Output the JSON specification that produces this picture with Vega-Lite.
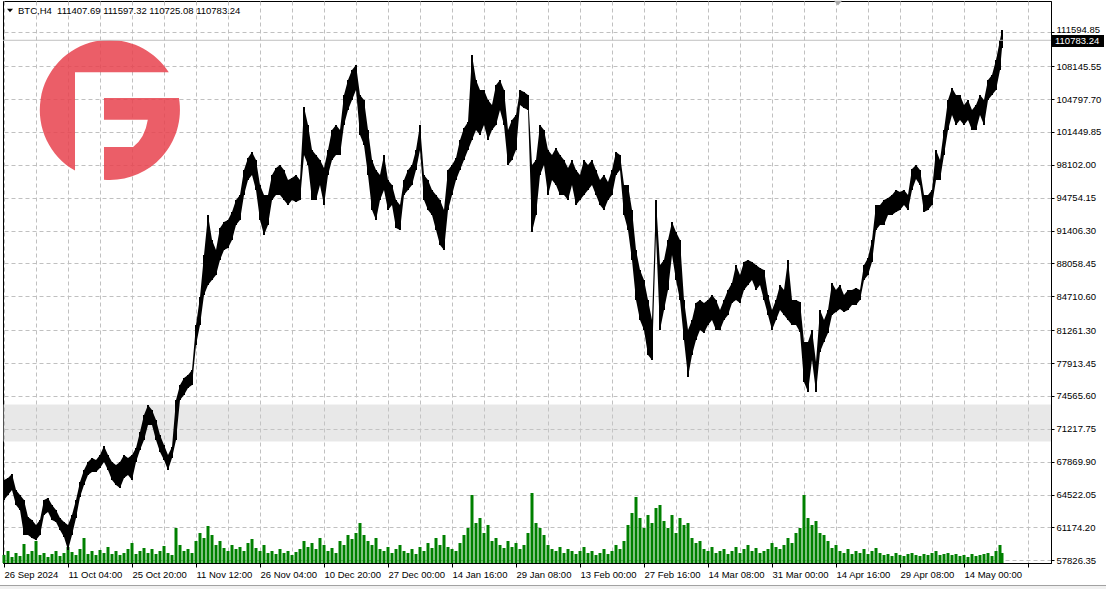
{
"$schema": "https://vega.github.io/schema/vega-lite/v6.json",
"width": 1048, "height": 562,
"autosize": {"type": "none"},
"padding": {"left": 3, "top": 1, "right": 55, "bottom": 26},
"background": "white",
"config": {
 "view": {"stroke": "black", "strokeWidth": 1},
 "font": "Liberation Sans",
 "axis": {"labelOverlap": false, "labelFlush": false, "labelBound": false, "title": null, "grid": true, "gridColor": "#c0c0c0", "gridDash": [4, 3], "gridWidth": 1, "domainColor": "black", "tickColor": "black", "labelFont": "Liberation Sans", "labelFontSize": 9.5, "labelColor": "black"},
 "axisX": {"tickSize": 4, "labelAlign": "left", "labelBaseline": "top", "labelPadding": 2},
 "axisY": {"tickSize": 3, "labelAlign": "left", "labelPadding": 2}
},
"datasets": {"bars": [
{"i":0,"h":66004,"l":63967,"v":80},{"i":4,"h":66208,"l":64477,"v":120},{"i":8,"h":66615,"l":64986,"v":60},{"i":12,"h":64986,"l":63458,"v":100},{"i":16,"h":64477,"l":62949,"v":70},{"i":20,"h":63967,"l":60403,"v":190},{"i":24,"h":62236,"l":60403,"v":90},{"i":28,"h":61930,"l":60098,"v":120},{"i":32,"h":61421,"l":59894,"v":220},{"i":36,"h":61930,"l":60403,"v":80},
{"i":40,"h":63967,"l":62440,"v":100},{"i":44,"h":64171,"l":62745,"v":60},{"i":48,"h":63458,"l":61930,"v":90},{"i":52,"h":62949,"l":61726,"v":120},{"i":56,"h":62134,"l":60912,"v":70},{"i":60,"h":61726,"l":60199,"v":100},{"i":64,"h":61421,"l":58875,"v":160},{"i":68,"h":62440,"l":60403,"v":110},{"i":72,"h":63967,"l":62134,"v":80},{"i":76,"h":65800,"l":64273,"v":140},
{"i":80,"h":67022,"l":65495,"v":250},{"i":84,"h":67837,"l":66513,"v":90},{"i":88,"h":68244,"l":66818,"v":120},{"i":92,"h":68041,"l":66818,"v":80},{"i":96,"h":68550,"l":67226,"v":130},{"i":100,"h":69466,"l":67837,"v":100},{"i":104,"h":68550,"l":67022,"v":160},{"i":108,"h":67837,"l":66004,"v":90},{"i":112,"h":67532,"l":65495,"v":120},{"i":116,"h":67837,"l":65190,"v":80},
{"i":120,"h":68550,"l":66208,"v":100},{"i":124,"h":68244,"l":66513,"v":140},{"i":128,"h":68550,"l":66004,"v":200},{"i":132,"h":69263,"l":67837,"v":90},{"i":136,"h":70892,"l":69059,"v":120},{"i":140,"h":72623,"l":70077,"v":150},{"i":144,"h":73641,"l":71605,"v":100},{"i":148,"h":73132,"l":71605,"v":140},{"i":152,"h":72114,"l":70077,"v":90},{"i":156,"h":70586,"l":68855,"v":120},
{"i":160,"h":69568,"l":68041,"v":170},{"i":164,"h":68550,"l":67022,"v":100},{"i":168,"h":69364,"l":68244,"v":80},{"i":172,"h":74151,"l":70077,"v":350},{"i":176,"h":75678,"l":74151,"v":180},{"i":180,"h":76391,"l":74660,"v":120},{"i":184,"h":76696,"l":75372,"v":140},{"i":188,"h":77206,"l":75678,"v":100},{"i":192,"h":81788,"l":79752,"v":220},{"i":196,"h":84640,"l":81788,"v":300},
{"i":200,"h":88917,"l":84844,"v":250},{"i":204,"h":92990,"l":85862,"v":370},{"i":208,"h":90444,"l":86371,"v":280},{"i":212,"h":89426,"l":86880,"v":180},{"i":216,"h":91667,"l":88408,"v":220},{"i":220,"h":92277,"l":89426,"v":150},{"i":224,"h":92481,"l":89630,"v":120},{"i":228,"h":93295,"l":90444,"v":180},{"i":232,"h":94518,"l":91972,"v":140},{"i":236,"h":95027,"l":92481,"v":160},
{"i":240,"h":97573,"l":95027,"v":120},{"i":244,"h":98795,"l":96554,"v":200},{"i":248,"h":99405,"l":97064,"v":240},{"i":252,"h":98591,"l":95536,"v":150},{"i":256,"h":96045,"l":92481,"v":120},{"i":260,"h":95027,"l":90954,"v":180},{"i":264,"h":95027,"l":91972,"v":100},{"i":268,"h":97064,"l":94518,"v":120},{"i":272,"h":97777,"l":95027,"v":90},{"i":276,"h":98082,"l":95027,"v":140},
{"i":280,"h":97573,"l":94518,"v":100},{"i":284,"h":96554,"l":94009,"v":120},{"i":288,"h":96758,"l":94518,"v":80},{"i":292,"h":97064,"l":94314,"v":110},{"i":296,"h":96554,"l":94518,"v":140},{"i":300,"h":103988,"l":99100,"v":220},{"i":304,"h":102155,"l":98082,"v":160},{"i":308,"h":99609,"l":94518,"v":200},{"i":312,"h":99100,"l":94518,"v":140},{"i":316,"h":98591,"l":96045,"v":250},
{"i":320,"h":97777,"l":94009,"v":180},{"i":324,"h":99609,"l":97064,"v":120},{"i":328,"h":101646,"l":98591,"v":150},{"i":332,"h":102155,"l":99100,"v":100},{"i":336,"h":101646,"l":99100,"v":220},{"i":340,"h":105210,"l":102155,"v":180},{"i":344,"h":106738,"l":103683,"v":280},{"i":348,"h":107756,"l":104701,"v":240},{"i":352,"h":108265,"l":105719,"v":300},{"i":356,"h":105210,"l":101137,"v":400},
{"i":360,"h":104701,"l":100118,"v":280},{"i":364,"h":101646,"l":97064,"v":220},{"i":368,"h":98591,"l":93499,"v":180},{"i":372,"h":97573,"l":92481,"v":250},{"i":376,"h":97064,"l":94518,"v":140},{"i":380,"h":99100,"l":95536,"v":120},{"i":384,"h":96554,"l":93499,"v":160},{"i":388,"h":96045,"l":94009,"v":100},{"i":392,"h":94518,"l":91667,"v":140},{"i":396,"h":94009,"l":91463,"v":180},
{"i":400,"h":96554,"l":95027,"v":120},{"i":404,"h":97573,"l":95536,"v":100},{"i":408,"h":98082,"l":96045,"v":140},{"i":412,"h":99609,"l":97573,"v":90},{"i":416,"h":102155,"l":99609,"v":160},{"i":420,"h":97064,"l":94518,"v":120},{"i":424,"h":96554,"l":93499,"v":200},{"i":428,"h":95536,"l":92990,"v":150},{"i":432,"h":95027,"l":91463,"v":250},{"i":436,"h":94518,"l":89935,"v":180},
{"i":440,"h":93499,"l":89426,"v":280},{"i":444,"h":97573,"l":93499,"v":160},{"i":448,"h":98082,"l":95027,"v":140},{"i":452,"h":98795,"l":96554,"v":120},{"i":456,"h":100628,"l":97573,"v":200},{"i":460,"h":101850,"l":98591,"v":280},{"i":464,"h":102460,"l":99609,"v":350},{"i":468,"h":109284,"l":100628,"v":680},{"i":472,"h":106738,"l":101646,"v":400},{"i":476,"h":105719,"l":101137,"v":450},
{"i":480,"h":105719,"l":102155,"v":300},{"i":484,"h":104701,"l":100628,"v":380},{"i":488,"h":104192,"l":101646,"v":220},{"i":492,"h":106229,"l":102155,"v":250},{"i":496,"h":106738,"l":103683,"v":180},{"i":500,"h":105719,"l":102155,"v":150},{"i":504,"h":101646,"l":98082,"v":220},{"i":508,"h":102664,"l":98591,"v":160},{"i":512,"h":103174,"l":99609,"v":200},{"i":516,"h":105719,"l":104192,"v":140},
{"i":520,"h":105516,"l":103886,"v":180},{"i":524,"h":105210,"l":103683,"v":300},{"i":528,"h":98082,"l":91259,"v":700},{"i":532,"h":98591,"l":92990,"v":400},{"i":536,"h":102155,"l":97064,"v":350},{"i":540,"h":101646,"l":98082,"v":280},{"i":544,"h":99609,"l":95027,"v":180},{"i":548,"h":99100,"l":96554,"v":140},{"i":552,"h":99813,"l":96045,"v":120},{"i":556,"h":99100,"l":95027,"v":160},
{"i":560,"h":98591,"l":95027,"v":100},{"i":564,"h":97777,"l":94518,"v":140},{"i":568,"h":98591,"l":96045,"v":120},{"i":572,"h":97573,"l":94009,"v":90},{"i":576,"h":97064,"l":94518,"v":120},{"i":580,"h":98591,"l":95027,"v":160},{"i":584,"h":98082,"l":95536,"v":100},{"i":588,"h":98591,"l":96045,"v":120},{"i":592,"h":97573,"l":95027,"v":80},{"i":596,"h":96554,"l":94009,"v":100},
{"i":600,"h":97064,"l":93499,"v":140},{"i":604,"h":96351,"l":94518,"v":90},{"i":608,"h":97573,"l":95027,"v":120},{"i":612,"h":99405,"l":97064,"v":180},{"i":616,"h":99100,"l":97573,"v":140},{"i":620,"h":96045,"l":92990,"v":220},{"i":624,"h":96045,"l":91463,"v":380},{"i":628,"h":93499,"l":88408,"v":500},{"i":632,"h":89426,"l":84334,"v":660},{"i":636,"h":87389,"l":82297,"v":450},
{"i":640,"h":86371,"l":81279,"v":350},{"i":644,"h":84334,"l":78733,"v":480},{"i":648,"h":82297,"l":78224,"v":400},{"i":652,"h":94518,"l":90954,"v":550},{"i":656,"h":87898,"l":81279,"v":580},{"i":660,"h":88408,"l":83316,"v":420},{"i":664,"h":90444,"l":85353,"v":350},{"i":668,"h":92277,"l":88917,"v":480},{"i":672,"h":91259,"l":86371,"v":300},{"i":676,"h":90444,"l":84334,"v":450},
{"i":680,"h":84334,"l":80261,"v":380},{"i":684,"h":81279,"l":76493,"v":400},{"i":688,"h":82297,"l":78733,"v":250},{"i":692,"h":84029,"l":80261,"v":200},{"i":696,"h":84334,"l":81279,"v":220},{"i":700,"h":84029,"l":80974,"v":140},{"i":704,"h":84334,"l":81788,"v":120},{"i":708,"h":84844,"l":82297,"v":160},{"i":712,"h":84334,"l":81279,"v":100},{"i":716,"h":83316,"l":81279,"v":120},
{"i":720,"h":84334,"l":82297,"v":140},{"i":724,"h":85353,"l":82807,"v":90},{"i":728,"h":86065,"l":84029,"v":120},{"i":732,"h":87898,"l":84334,"v":160},{"i":736,"h":86880,"l":84029,"v":100},{"i":740,"h":88205,"l":85353,"v":140},{"i":744,"h":88408,"l":85862,"v":180},{"i":748,"h":88205,"l":86371,"v":120},{"i":752,"h":87898,"l":85353,"v":150},{"i":756,"h":87593,"l":85862,"v":100},
{"i":760,"h":87389,"l":84334,"v":120},{"i":764,"h":84844,"l":82807,"v":140},{"i":768,"h":83316,"l":81279,"v":200},{"i":772,"h":84334,"l":82297,"v":160},{"i":776,"h":85862,"l":83316,"v":140},{"i":780,"h":85353,"l":82807,"v":180},{"i":784,"h":88408,"l":82297,"v":250},{"i":788,"h":84334,"l":81788,"v":200},{"i":792,"h":84334,"l":81788,"v":300},{"i":796,"h":84130,"l":81075,"v":350},
{"i":800,"h":80057,"l":75983,"v":680},{"i":804,"h":80057,"l":74965,"v":450},{"i":808,"h":81279,"l":78224,"v":380},{"i":812,"h":78020,"l":74965,"v":420},{"i":816,"h":83316,"l":79038,"v":300},{"i":820,"h":82297,"l":80057,"v":280},{"i":824,"h":83316,"l":80974,"v":220},{"i":828,"h":86065,"l":82807,"v":150},{"i":832,"h":85353,"l":83112,"v":180},{"i":836,"h":85862,"l":83418,"v":120},
{"i":840,"h":84844,"l":83112,"v":100},{"i":844,"h":85353,"l":83316,"v":140},{"i":848,"h":85353,"l":83825,"v":90},{"i":852,"h":85557,"l":83825,"v":120},{"i":856,"h":85353,"l":84334,"v":100},{"i":860,"h":87898,"l":86371,"v":140},{"i":864,"h":88612,"l":86880,"v":90},{"i":868,"h":90444,"l":88205,"v":120},{"i":872,"h":94009,"l":91463,"v":150},{"i":876,"h":94009,"l":91972,"v":100},
{"i":880,"h":94518,"l":91972,"v":80},{"i":884,"h":94721,"l":92990,"v":90},{"i":888,"h":95027,"l":92990,"v":70},{"i":892,"h":95536,"l":93295,"v":100},{"i":896,"h":95332,"l":93499,"v":80},{"i":900,"h":95536,"l":94009,"v":70},{"i":904,"h":95027,"l":93499,"v":90},{"i":908,"h":97675,"l":95536,"v":100},{"i":912,"h":98082,"l":96656,"v":80},{"i":916,"h":97573,"l":96045,"v":70},
{"i":920,"h":95027,"l":93295,"v":90},{"i":924,"h":95027,"l":93499,"v":80},{"i":928,"h":95536,"l":94009,"v":100},{"i":932,"h":99609,"l":96554,"v":120},{"i":936,"h":98591,"l":96554,"v":80},{"i":940,"h":101646,"l":99100,"v":90},{"i":944,"h":104701,"l":101646,"v":100},{"i":948,"h":105923,"l":103174,"v":80},{"i":952,"h":105210,"l":102155,"v":90},{"i":956,"h":105210,"l":102664,"v":70},
{"i":960,"h":104192,"l":102155,"v":80},{"i":964,"h":104701,"l":102664,"v":60},{"i":968,"h":103683,"l":101646,"v":90},{"i":972,"h":104192,"l":101646,"v":70},{"i":976,"h":105210,"l":103174,"v":80},{"i":980,"h":104701,"l":102155,"v":90},{"i":984,"h":106738,"l":104701,"v":100},{"i":988,"h":107247,"l":105210,"v":70},{"i":992,"h":108774,"l":105719,"v":120},{"i":996,"h":110811,"l":107756,"v":180},
{"i":998,"h":111829,"l":109997,"v":100}
]},
"layer": [
 {
  "data": {"name": "bars"},
  "mark": {"type": "rule", "strokeWidth": 3, "color": "#008000"},
  "encoding": {
   "x": {"field": "i", "type": "quantitative", "title": null, "scale": {"domain": [-1, 1047], "nice": false, "zero": false}},
   "y": {"field": "v", "type": "quantitative", "scale": {"domain": [0, 5620], "nice": false}, "axis": null},
   "y2": {"datum": 0}
  }
 },
 {
  "layer": [
   {
    "data": {"values": [{}]},
    "mark": {"type": "rect", "color": "#c8c8c8", "opacity": 0.42},
    "encoding": {
     "y": {"datum": 73680, "type": "quantitative", "title": null, "scale": {"domain": [57551, 114782], "nice": false, "zero": false}},
     "y2": {"datum": 69920}
    }
   },
   {
    "data": {"values": [{}]},
    "mark": {"type": "rect", "fill": "#f0f0f0", "stroke": "#a0a0a0", "strokeWidth": 1, "clip": false},
    "encoding": {
     "x": {"datum": -5, "type": "quantitative", "title": null, "scale": {"domain": [-1, 1047], "nice": false, "zero": false}},
     "x2": {"datum": 1104},
     "y": {"datum": 55260, "type": "quantitative", "title": null, "scale": {"domain": [57551, 114782], "nice": false, "zero": false}},
     "y2": {"datum": 54700}
    }
   },
   {
    "data": {"values": [{}]},
    "mark": {"type": "point", "shape": "M -0.5 0.866 L -0.5 -0.54 L 0.84 -0.54 A 1 1 0 1 0 -0.5 0.866 Z M -0.086 -0.17 L 0.985 -0.17 A 1 1 0 0 1 -0.086 0.996 L -0.086 0.53 L 0.33 0.53 Q 0.5 0.4 0.54 0.14 L -0.086 0.14 Z", "filled": true, "fill": "#e8424e", "opacity": 0.85, "size": 19600, "strokeWidth": 0},
    "encoding": {
     "x": {"datum": 106, "type": "quantitative", "title": null, "scale": {"domain": [-1, 1047], "nice": false, "zero": false}},
     "y": {"datum": 103683, "type": "quantitative", "title": null, "scale": {"domain": [57551, 114782], "nice": false, "zero": false}}
    }
   },
   {
    "data": {"name": "bars"},
    "mark": {"type": "area", "color": "black", "opacity": 1, "interpolate": "linear"},
    "encoding": {
     "x": {"field": "i", "type": "quantitative", "title": null, "scale": {"domain": [-1, 1047], "nice": false, "zero": false}},
     "y": {"field": "h", "type": "quantitative", "title": null, "scale": {"domain": [57551, 114782], "nice": false, "zero": false}},
     "y2": {"field": "l"}
    }
   },
   {
    "data": {"name": "bars"},
    "mark": {"type": "rule", "strokeWidth": 2, "color": "black"},
    "encoding": {
     "x": {"field": "i", "type": "quantitative", "title": null, "scale": {"domain": [-1, 1047], "nice": false, "zero": false},
      "axis": {"orient": "bottom", "grid": true, "tickCount": 200,
       "values": [0,32,64,96,128,160,192,224,256,288,320,352,384,416,448,480,512,544,576,608,640,672,704,736,768,800,832,864,896,928,960,992,1024],
       "labelExpr": "datum.value % 64 == 0 && datum.value <= 960 ? ['26 Sep 2024','11 Oct 04:00','25 Oct 20:00','11 Nov 12:00','26 Nov 04:00','10 Dec 20:00','27 Dec 00:00','14 Jan 16:00','29 Jan 08:00','13 Feb 00:00','27 Feb 16:00','14 Mar 08:00','31 Mar 00:00','14 Apr 16:00','29 Apr 08:00','14 May 00:00'][datum.value / 64] : ''",
       "tickOpacity": {"condition": {"test": "datum.value % 64 == 0", "value": 1}, "value": 0}}},
     "y": {"field": "h", "type": "quantitative", "title": null, "scale": {"domain": [57551, 114782], "nice": false, "zero": false},
      "axis": {"orient": "right", "grid": true, "tickCount": 200,
       "values": [57826.35, 61174.2, 64522.05, 67869.9, 71217.75, 74565.6, 77913.45, 81261.3, 84710.6, 88058.45, 91406.3, 94754.15, 98102, 101449.85, 104797.7, 108145.55, 111594.85],
       "labelBaseline": {"condition": {"test": "datum.value > 111000", "value": "alphabetic"}, "value": "middle"},
       "format": ".2f"}},
     "y2": {"field": "l"}
    }
   },
   {
    "data": {"values": [{}]},
    "mark": {"type": "rule", "color": "#c0c0c0", "strokeWidth": 1},
    "encoding": {
     "y": {"datum": 110783.24, "type": "quantitative", "title": null, "scale": {"domain": [57551, 114782], "nice": false, "zero": false}}
    }
   },
   {
    "data": {"values": [{}]},
    "mark": {"type": "rect", "color": "black", "clip": false},
    "encoding": {
     "x": {"datum": 1048, "type": "quantitative", "title": null, "scale": {"domain": [-1, 1047], "nice": false, "zero": false}},
     "x2": {"datum": 1100},
     "y": {"datum": 111320, "type": "quantitative", "title": null, "scale": {"domain": [57551, 114782], "nice": false, "zero": false}},
     "y2": {"datum": 110098}
    }
   },
   {
    "data": {"values": [{}]},
    "mark": {"type": "text", "color": "white", "align": "left", "baseline": "middle", "font": "Liberation Sans", "fontSize": 9.5},
    "encoding": {
     "x": {"datum": 1051, "type": "quantitative", "title": null, "scale": {"domain": [-1, 1047], "nice": false, "zero": false}},
     "y": {"datum": 110700, "type": "quantitative", "title": null, "scale": {"domain": [57551, 114782], "nice": false, "zero": false}},
     "text": {"value": "110783.24"}
    }
   },
   {
    "data": {"values": [{}]},
    "mark": {"type": "text", "color": "black", "align": "left", "baseline": "alphabetic", "font": "Liberation Sans", "fontSize": 9.5},
    "encoding": {
     "x": {"datum": 14, "type": "quantitative", "title": null, "scale": {"domain": [-1, 1047], "nice": false, "zero": false}},
     "y": {"datum": 113458, "type": "quantitative", "title": null, "scale": {"domain": [57551, 114782], "nice": false, "zero": false}},
     "text": {"value": "BTC,H4\u00a0 111407.69 111597.32 110725.08 110783.24"}
    }
   },
   {
    "data": {"values": [{}]},
    "mark": {"type": "point", "shape": "M -1 -0.55 L 1 -0.55 L 0 0.6 Z", "filled": true, "fill": "black", "opacity": 1, "size": 36, "strokeWidth": 0},
    "encoding": {
     "x": {"datum": 6, "type": "quantitative", "title": null, "scale": {"domain": [-1, 1047], "nice": false, "zero": false}},
     "y": {"datum": 113815, "type": "quantitative", "title": null, "scale": {"domain": [57551, 114782], "nice": false, "zero": false}}
    }
   },
   {
    "data": {"values": [{}]},
    "mark": {"type": "point", "shape": "M -1 -0.55 L 1 -0.55 L 0 0.6 Z", "filled": true, "fill": "#a9a9a9", "opacity": 1, "size": 64, "strokeWidth": 0},
    "encoding": {
     "x": {"datum": 834, "type": "quantitative", "title": null, "scale": {"domain": [-1, 1047], "nice": false, "zero": false}},
     "y": {"datum": 114578, "type": "quantitative", "title": null, "scale": {"domain": [57551, 114782], "nice": false, "zero": false}}
    }
   }
  ]
 }
],
"resolve": {"scale": {"y": "independent"}}
}
